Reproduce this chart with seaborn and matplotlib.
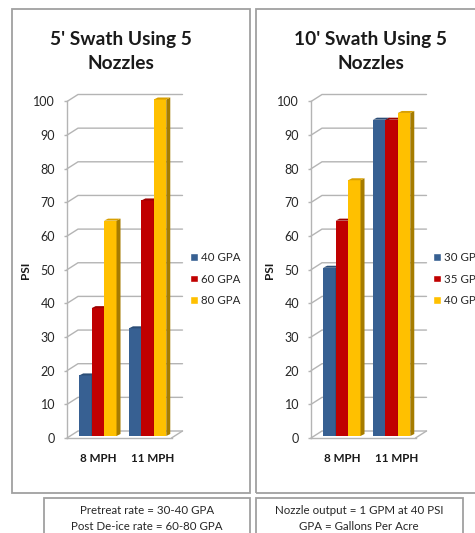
import matplotlib
matplotlib.use("Agg")
import matplotlib.pyplot as plt
from matplotlib.patches import Polygon, Rectangle, Patch
import pandas as pd
import seaborn as sns

speeds = ["8 MPH", "11 MPH"]
left_title = "5' Swath Using 5\nNozzles"
left_rates = ["40 GPA", "60 GPA", "80 GPA"]
left_8mph = [18, 38, 64]
left_11mph = [32, 70, 100]
right_title = "10' Swath Using 5\nNozzles"
right_rates = ["30 GPA", "35 GPA", "40 GPA"]
right_8mph = [50, 64, 76]
right_11mph = [94, 94, 96]
yticks = list(range(0, 101, 10))
note_left = "Pretreat rate = 30-40 GPA\nPost De-ice rate = 60-80 GPA"
note_right = "Nozzle output = 1 GPM at 40 PSI\nGPA = Gallons Per Acre"

FRONT = ["#376092", "#C00000", "#FFC000"]
SIDE = ["#254061", "#7F0000", "#A67C00"]
TOP = ["#2B4D76", "#9C0000", "#D9A000"]
GRID = "#B4B4B4"

W, H = 475, 533
sns.set_theme(style="white")
plt.rcParams["font.family"] = ["Lato", "DejaVu Sans"]
fig = plt.figure(figsize=(W / 100, H / 100), dpi=100, facecolor="white")


def box(x0, y0, x1, y1):
    fig.add_artist(Rectangle((x0 / W, 1 - y1 / H), (x1 - x0) / W, (y1 - y0) / H,
                             transform=fig.transFigure, facecolor="none",
                             edgecolor="#A0A0A0", linewidth=1.3))


def chart(left_px, rates, v8, v11, title, title_x, legend_x, ylabel_x, note, note_x):
    ax = fig.add_axes([left_px / W, 1 - 438 / H, 104.5 / W, 336.5 / H])
    df = pd.DataFrame({
        "speed": [speeds[0]] * 3 + [speeds[1]] * 3,
        "rate": rates * 2,
        "psi": v8 + v11,
    })
    sns.barplot(data=df, x="speed", y="psi", hue="rate", order=speeds, hue_order=rates,
                palette=FRONT, saturation=1, width=0.75, gap=0, legend=False, ax=ax,
                linewidth=0, errorbar=None)
    xmin, xmax = -0.62, 1.48
    ax.set_xlim(xmin, xmax)
    ax.set_ylim(0, 100)
    px_x = (xmax - xmin) / 104.5
    px_y = 100 / 336.5
    wx, wy = 11 * px_x, 7 * px_y     # wall depth
    bx, by = 4 * px_x, 2 * px_y      # bar depth
    lift = 2 * px_y

    for v in yticks:
        ax.plot([xmin, xmin + wx, xmax + wx], [v, v + wy, v + wy], color=GRID, lw=1.0,
                clip_on=False, zorder=0.5, solid_joinstyle="miter")
    ax.plot([xmax, xmax + wx], [0, wy], color=GRID, lw=1.0, clip_on=False, zorder=0.5)

    bars = sorted([p for p in ax.patches if p.get_height() > 0], key=lambda p: p.get_x())
    for i, bar in enumerate(bars):
        c = i % 3
        bar.set_y(lift)
        bar.set_clip_on(False)
        bar.set_zorder(2 + i)
        x0, x1 = bar.get_x(), bar.get_x() + bar.get_width()
        y0, y1 = lift, lift + bar.get_height()
        ax.add_patch(Polygon([(x1, y0), (x1 + bx, y0 + by), (x1 + bx, y1 + by), (x1, y1)],
                             facecolor=SIDE[c], edgecolor="none", clip_on=False, zorder=2 + i))
        ax.add_patch(Polygon([(x0, y1), (x0 + bx, y1 + by), (x1 + bx, y1 + by), (x1, y1)],
                             facecolor=TOP[c], edgecolor="none", clip_on=False, zorder=2 + i))

    for s in ["top", "right"]:
        ax.spines[s].set_visible(False)
    for s in ["left", "bottom"]:
        ax.spines[s].set_color(GRID)
        ax.spines[s].set_linewidth(1.0)
    ax.set_yticks(yticks)
    ax.tick_params(axis="y", length=2.5, width=1, color=GRID, pad=6, labelsize=9,
                   labelcolor="#262626", left=True)
    ax.set_xticks([0, 1.1])
    ax.set_xticklabels(speeds, fontweight="bold", fontsize=8.4, color="#1A1A1A")
    ax.tick_params(axis="x", length=0, pad=10.5)
    ax.set_xlabel("")
    ax.set_ylabel("PSI", fontweight="bold", fontsize=8.5, color="#1A1A1A")
    ax.yaxis.set_label_coords((ylabel_x - left_px) / 104.5, 0.497)
    ax.legend(handles=[Patch(facecolor=FRONT[i], label=rates[i]) for i in range(3)],
              loc="center left", bbox_to_anchor=((legend_x - left_px) / 104.5, 0.4725),
              frameon=False, fontsize=8.3, handlelength=0.68, handleheight=0.68,
              handletextpad=0.25, labelspacing=0.94, borderpad=0, borderaxespad=0,
              labelcolor="#262626")
    fig.text(title_x / W, 1 - 51.5 / H, title, ha="center", va="center", fontsize=13.8,
             fontweight="bold", color="#1A1A1A", linespacing=1.55)
    fig.text(note_x / W, 1 - 518.5 / H, note, ha="center", va="center", fontsize=8.25,
             color="#262626", linespacing=1.45)


box(12, 8.5, 250, 492.5)
box(256, 8.5, 480, 492.5)
box(44, 498, 250, 540)
box(256, 498, 462.5, 540)
chart(67, left_rates, left_8mph, left_11mph, left_title, 121, 190, 31,
      note_left, 147)
chart(311, right_rates, right_8mph, right_11mph, right_title, 371, 433, 275,
      note_right, 359)

fig.savefig("out.png", dpi=100, facecolor="white")
